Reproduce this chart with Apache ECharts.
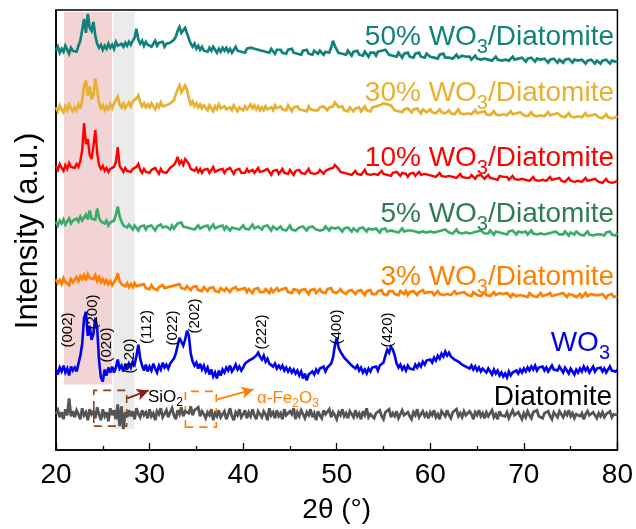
<!DOCTYPE html>
<html><head><meta charset="utf-8">
<script src="https://cdn.jsdelivr.net/npm/echarts@6/dist/echarts.min.js"></script>
<style>html,body{margin:0;padding:0;background:#fff}#c{width:636px;height:529px}</style>
</head><body><div id="c"></div>
<script>
// 2-theta scan: 20.0 .. 80.0 step 0.2 (301 points)
const scanStart = 20, scanStep = 0.2;
const xTicks = [20, 30, 40, 50, 60, 70, 80];

const diatomite = [
36,40,33,38,31,41,35,52,34,39, 33,40,36,31,42,35,38,30,41,36, 39,32,43,36,30,41,34,38,29,42,
35,40,31,46,24,44,21,38,33,40, 34,39,31,42,36,33,40,35,38,32, 41,34,37,30,39,36,42,33,35,40,
33,38,42,35,31,40,36,43,34,39, 41,37,44,35,40,38,43,34,39,36, 32,38,35,41,30,37,34,40,33,36,
39,31,36,42,34,30,38,35,41,33, 36,40,32,38,34,41,35,31,39,37, 33,39,36,30,42,35,38,32,40,34,
37,31,41,35,33,39,36,42,31,38, 34,40,36,32,38,35,41,33,37,30, 39,35,32,40,36,34,41,33,38,35,
31,38,35,41,34,37,32,39,36,33, 40,34,37,31,39,35,42,33,36,38, 32,37,35,40,34,31,38,36,41,33,
37,34,39,32,36,40,35,33,38,34, 31,38,35,41,33,36,39,34,37,32, 38,35,40,33,36,31,39,37,34,40,
35,32,38,36,41,34,37,33,39,35, 33,39,36,31,38,35,40,34,37,32, 38,34,37,40,33,36,31,39,35,37,
34,38,32,36,40,35,33,38,36,31, 37,33,39,35,32,38,36,40,34,36, 32,37,35,39,34,31,38,36,33,39,
36,33,38,35,40,34,37,32,36,38, 34,37,31,36,39,35,33,38,35,32, 37,34,38,33,36,35,39,33,36,34,
35];

const wo3 = [
36,31,38,34,40,33,37,30,39,35, 38,34,42,50,62,88,94,70,80,66, 72,88,78,45,28,24,36,30,38,33,
39,33,38,46,37,40,34,41,36,42, 38,44,41,50,61,47,40,35,41,34, 39,35,42,37,33,40,36,43,38,41,
37,42,40,47,52,60,68,64,60,66, 75,70,52,44,40,43,37,42,36,40, 34,38,31,36,29,33,27,35,30,36,
33,38,35,40,34,37,41,36,39,35, 38,42,40,45,43,47,45,50,53,49, 46,50,44,47,42,44,39,42,37,40,
37,40,35,38,34,37,33,36,32,35, 30,34,27,32,25,31,29,34,31,36, 33,37,35,39,34,38,36,42,48,60,
68,58,54,52,48,50,44,46,40,42, 37,40,35,38,33,36,32,37,34,38, 36,39,35,40,38,43,50,56,53,59,
56,50,42,38,41,36,39,35,40,37, 39,36,41,38,42,39,44,41,45,43, 46,43,48,45,50,47,52,49,54,50,
53,49,51,46,48,44,45,41,43,39, 41,37,40,36,39,35,38,34,37,35, 33,37,34,31,36,32,35,30,33,29,
32,28,34,30,33,31,35,32,36,33, 37,34,38,35,39,36,40,35,38,36, 39,35,38,34,37,40,36,38,35,39,
36,33,38,35,32,37,34,31,36,33, 37,34,39,35,38,33,36,39,34,37, 35,38,34,37,33,36,39,35,37,34,
36];

const wo3_3 = [
37,33,36,32,38,34,35,31,37,34, 36,39,35,40,37,41,36,42,38,40, 37,41,35,39,34,37,33,36,32,35,
31,34,37,43,35,32,34,30,33,29, 32,29,33,30,28,31,29,32,28,30, 27,31,28,30,26,29,27,31,28,26,
29,27,30,28,31,29,32,28,30,27, 30,28,26,29,27,30,26,28,25,29, 27,25,28,26,29,25,27,24,28,26,
25,28,26,24,27,25,29,26,24,27, 25,28,24,27,26,23,27,25,28,24, 26,24,27,25,23,27,24,26,28,25,
24,27,25,28,24,26,23,27,25,26, 23,26,24,27,25,22,26,24,27,23, 25,27,24,26,23,27,25,28,24,26,
23,25,27,24,26,22,25,23,26,24, 22,25,23,26,24,21,25,23,26,22, 24,22,25,23,26,22,24,21,25,23,
25,22,24,21,25,23,22,25,21,24, 22,25,23,21,24,22,26,23,21,24, 22,24,21,23,25,22,24,21,23,22,
24,21,23,25,22,20,23,21,24,22, 21,23,20,24,22,21,23,20,22,24, 21,23,20,22,24,21,19,23,21,22,
20,23,21,19,22,24,20,22,21,23, 20,22,19,23,21,20,22,19,21,23, 20,22,21,19,23,20,22,21,19,22,
20,23,21,19,22,20,21,23,19,21, 22,19,21,23,20,18,22,20,21,19, 21,19,22,20,18,21,20,22,19,21,
20];

const wo3_5 = [
35,31,36,33,37,32,35,38,33,36, 34,38,35,40,36,39,42,37,46,38, 40,37,48,39,35,37,33,36,31,34,
32,36,42,50,40,35,31,33,29,32, 30,27,31,29,26,30,28,31,27,30, 28,31,29,26,30,28,32,29,27,30,
29,27,31,28,30,33,31,34,30,32, 29,31,28,30,27,29,31,28,26,30, 28,31,27,29,32,28,26,30,28,31,
27,30,28,26,29,31,28,30,27,29, 31,28,30,27,29,32,28,26,30,28, 27,30,28,31,29,26,30,28,27,29,
30,27,29,26,28,31,27,29,26,28, 29,27,30,28,26,29,27,30,28,27, 29,26,28,27,30,28,26,29,27,28,
26,29,27,25,28,26,29,27,25,28, 27,25,28,26,29,27,25,28,26,27, 25,28,26,24,27,26,28,25,27,26,
28,25,27,24,26,28,25,27,26,24, 26,28,25,27,24,26,25,27,24,26, 25,27,24,26,25,23,26,24,27,25,
24,26,23,25,27,24,26,23,25,24, 26,23,25,24,22,25,23,26,24,23, 25,23,26,24,22,25,23,24,26,23,
24,22,25,23,26,24,22,25,23,24, 23,25,22,24,26,23,25,22,24,23, 25,22,24,23,21,24,22,25,23,22,
24,22,25,23,21,24,23,22,25,23, 22,24,21,23,25,22,24,21,23,22, 24,22,23,21,24,22,25,22,23,21,
23];

const wo3_10 = [
36,32,38,34,31,37,33,39,35,36, 34,38,35,41,52,79,58,63,47,43, 56,72,49,37,33,36,31,34,30,33,
31,35,40,55,36,33,30,34,31,33, 30,33,31,35,38,32,29,33,30,32, 29,32,30,34,31,28,33,30,32,29,
31,34,32,37,40,45,38,41,37,43, 45,38,33,35,31,34,30,33,29,32, 30,33,29,32,35,30,28,32,30,33,
29,32,30,34,31,28,32,30,33,29, 31,29,33,30,28,32,29,31,34,30, 28,31,29,33,30,27,31,29,32,28,
30,33,29,31,28,32,30,27,31,29, 32,29,31,28,30,33,29,31,28,30, 29,32,30,28,31,29,33,31,34,37,
36,33,30,32,29,31,28,30,27,29, 31,28,30,27,29,32,28,30,27,29, 28,30,27,29,31,28,30,27,29,26,
29,27,30,28,26,29,27,28,25,28, 27,29,26,28,30,27,25,28,26,27, 29,26,28,25,27,29,26,28,25,27,
26,28,25,27,24,26,28,25,27,24, 26,24,27,25,23,26,24,27,25,23, 25,27,24,26,23,25,22,26,24,25,
23,25,22,24,26,23,25,22,24,23, 25,22,24,21,23,25,22,24,21,23, 22,24,21,23,25,22,20,23,22,24,
21,23,20,22,24,21,23,20,22,21, 23,20,22,24,21,19,22,20,23,21, 20,22,19,21,23,20,22,19,21,20,
21];

const wo3_30 = [
40,36,42,38,35,41,37,43,39,36, 40,37,43,39,47,62,67,52,61,48, 53,69,58,44,39,42,37,41,38,43,
39,44,42,51,43,40,44,39,42,45, 41,46,44,49,52,45,41,44,40,43, 40,44,41,38,43,40,45,41,39,42,
40,44,42,47,53,58,62,55,57,62, 58,49,43,46,41,44,40,43,39,42, 40,37,42,39,36,41,38,43,39,37,
41,38,36,40,37,42,39,36,40,38, 37,41,38,40,43,39,42,38,41,37, 40,37,41,38,36,40,37,42,39,38,
41,38,40,37,42,39,36,40,38,41, 38,40,37,39,36,41,38,40,37,39, 37,40,38,41,39,37,40,42,41,45,
43,40,38,41,37,39,36,40,38,36, 39,37,40,36,38,41,37,39,36,40, 38,41,39,42,40,44,46,43,45,42,
40,37,39,36,38,35,38,36,39,37, 35,38,36,39,37,34,38,36,35,37, 38,35,37,34,36,38,35,37,34,36,
37,34,36,33,35,38,34,36,33,35, 34,36,33,35,37,34,32,35,34,36, 33,35,32,34,36,33,35,32,34,33,
35,32,34,36,33,31,34,32,35,33, 32,34,31,33,35,32,34,31,33,32, 34,31,33,35,32,30,33,31,34,32,
31,33,30,32,34,31,33,30,32,31, 33,30,32,34,31,29,32,30,33,31, 30,32,29,31,33,30,32,29,31,30,
31];

const wo3_50 = [
37,41,35,39,36,42,38,34,40,37, 39,36,42,47,58,69,55,74,60,57, 66,52,44,40,43,38,42,39,44,40,
43,39,46,42,40,44,41,45,42,46, 43,47,50,59,48,44,47,42,46,43, 45,41,44,47,42,45,43,46,41,44,
42,45,43,48,51,57,61,55,53,60, 58,49,44,41,44,39,42,38,41,37, 39,36,40,37,41,38,35,39,36,40,
37,40,36,39,35,38,41,37,39,36, 38,35,39,37,40,42,39,41,38,40, 37,39,36,38,35,39,37,34,38,36,
38,35,37,34,38,36,39,35,37,34, 36,33,37,35,38,34,36,33,37,35, 34,37,35,33,36,38,35,40,47,42,
38,35,37,34,36,33,37,35,32,36, 34,37,33,35,32,36,34,31,35,33, 35,32,36,34,37,35,38,36,33,35,
32,34,31,35,33,30,34,32,35,31, 33,30,34,32,35,31,33,30,34,32, 31,33,30,32,29,33,31,34,30,32,
30,32,29,31,33,30,28,32,30,31, 29,31,28,30,32,29,31,28,30,29, 31,28,30,27,29,31,28,30,27,29,
28,30,27,29,31,28,26,29,27,30, 28,26,29,27,30,28,26,29,27,28, 26,29,27,25,28,26,29,27,25,28,
27,25,28,26,29,27,25,28,26,27, 25,28,26,24,27,25,28,26,24,27, 26,24,27,25,28,26,24,27,25,26,
26];

const seriesNames = ['Diatomite','WO3','3% WO3/Diatomite','5% WO3/Diatomite','10% WO3/Diatomite','30% WO3/Diatomite','50% WO3/Diatomite'];
const seriesValues = [diatomite, wo3, wo3_3, wo3_5, wo3_10, wo3_30, wo3_50];
const stackOffsets = [0, 45, 135, 195, 250, 305, 365];
const lineColors = ['#555555','#0000f0','#ff8000','#3aac6c','#ff0000','#e8b030','#10827c'];
const lineWidths = [2.8, 2.6, 2.7, 2.7, 2.4, 2.7, 2.7];

const FONT = "'Liberation Sans', Arial, Helvetica, sans-serif";
const chart = echarts.init(document.getElementById('c'), null, {renderer:'canvas'});

const series = seriesValues.map((vals, k) => ({
  name: seriesNames[k], type:'line', showSymbol:false, symbol:'none', z: 2,
  animation:false, silent:true,
  lineStyle:{color: lineColors[k], width: lineWidths[k], join:'miter', miterLimit:3},
  data: vals.map((v, i) => [+(scanStart + scanStep*i).toFixed(1), v + stackOffsets[k]])
}));

// overlay shading + annotations
series.push({
  type:'line', data:[], z: 3, animation:false, silent:true,
  markArea:{
    silent:true,
    data:[
      [{xAxis:20.85, yAxis:66, itemStyle:{color:'rgba(200,50,50,0.21)'}}, {xAxis:26.0, yAxis:441}],
      [{xAxis:26.1, yAxis:21, itemStyle:{color:'rgba(128,128,128,0.16)'}}, {xAxis:28.4, yAxis:441}],
      [{xAxis:24.04, yAxis:24, itemStyle:{color:'transparent', borderColor:'#8a4616', borderWidth:1.6, borderType:[8,6]}}, {xAxis:27.55, yAxis:60}],
      [{xAxis:33.83, yAxis:23, itemStyle:{color:'transparent', borderColor:'#ff8000', borderWidth:1.6, borderType:[8,6]}}, {xAxis:37.13, yAxis:59}]
    ]
  },
  markLine:{
    silent:true, symbol:['none','arrow'], symbolSize:[9,12], label:{show:false},
    data:[
      [{coord:[27.6,52], lineStyle:{color:'#8b1a1a', width:1.8, type:'solid'}}, {coord:[29.9,60]}],
      [{coord:[37.25,51], lineStyle:{color:'#ff8000', width:1.8, type:'solid'}}, {coord:[41.1,61]}]
    ]
  }
});

function subLabel(x, y, main1, sub, main2, color, size, subSize, subPad) {
  return {
    type:'text', x:x, y:y, z:10, silent:true,
    style:{
      text:'{a|' + main1 + '}{s|' + sub + '}{a|' + main2 + '}',
      align:'right', verticalAlign:'middle', fill:color,
      rich:{
        a:{fontSize:size, fontFamily:FONT, fill:color},
        s:{fontSize:subSize, fontFamily:FONT, fill:color, padding:[subPad,0,0,0]}
      }
    }
  };
}
function peakLabel(x, y, t) {
  return {type:'text', x:x, y:y, rotation:Math.PI/2, z:10, silent:true,
    style:{text:t, align:'center', verticalAlign:'middle', fill:'#000', font:'15px ' + FONT}};
}

const graphic = [
  subLabel(614, 37, '50% WO', '3', '/Diatomite', '#10827c', 28, 20, 21),
  subLabel(614, 93, '30% WO', '3', '/Diatomite', '#e8b030', 28, 20, 21),
  subLabel(614, 158, '10% WO', '3', '/Diatomite', '#ff0000', 28, 20, 21),
  subLabel(614, 214, '5% WO', '3', '/Diatomite', '#2e7d50', 28, 20, 21),
  subLabel(614, 277, '3% WO', '3', '/Diatomite', '#ff8000', 28, 20, 21),
  subLabel(610, 343, 'WO', '3', '', '#0000ee', 28, 20, 21),
  {type:'text', x:612, y:397, z:10, silent:true,
    style:{text:'Diatomite', align:'right', verticalAlign:'middle', fill:'#000', font:'28px ' + FONT}},
  {type:'text', x:148, y:397, z:10, silent:true,
    style:{text:'{a|SiO}{s|2}', align:'left', verticalAlign:'middle', fill:'#000',
      rich:{a:{fontSize:17, fontFamily:FONT, fill:'#000'}, s:{fontSize:12, fontFamily:FONT, fill:'#000', padding:[11,0,0,0]}}}},
  {type:'text', x:257, y:398, z:10, silent:true,
    style:{text:'{a|α-Fe}{s|2}{a|O}{s|3}', align:'left', verticalAlign:'middle', fill:'#ff8000',
      rich:{a:{fontSize:17, fontFamily:FONT, fill:'#ff8000'}, s:{fontSize:12, fontFamily:FONT, fill:'#ff8000', padding:[11,0,0,0]}}}},
  {type:'text', x:28, y:231, rotation:Math.PI/2, z:10, silent:true,
    style:{text:'Intensity (a.u.)', align:'center', verticalAlign:'middle', fill:'#000', font:'31px ' + FONT}},
  peakLabel(68, 330, '(002)'),
  peakLabel(93, 312, '(200)'),
  peakLabel(107, 345, '(020)'),
  peakLabel(130, 356, '(120)'),
  peakLabel(147, 327, '(112)'),
  peakLabel(173, 328, '(022)'),
  peakLabel(195, 316, '(202)'),
  peakLabel(262, 332, '(222)'),
  peakLabel(337, 327, '(400)'),
  peakLabel(388, 330, '(420)')
];

chart.setOption({
  animation:false,
  backgroundColor:'#fff',
  grid:{left:56, right:17, top:10, bottom:76, show:true, borderColor:'#000', borderWidth:1.5, backgroundColor:'transparent'},
  xAxis:{
    type:'value', min:xTicks[0], max:xTicks[xTicks.length-1], interval:10,
    name:'2θ (°)', nameLocation:'middle', nameGap:46,
    nameTextStyle:{fontSize:28, fontFamily:FONT, color:'#000'},
    axisLine:{show:true, onZero:false, lineStyle:{color:'#000', width:1.5}},
    axisTick:{show:true, inside:true, length:7, lineStyle:{color:'#000', width:1.3}},
    minorTick:{show:true, splitNumber:2, length:4, lineStyle:{color:'#000', width:1.3}},
    axisLabel:{fontSize:28, fontFamily:FONT, color:'#000', margin:11},
    splitLine:{show:false}, minorSplitLine:{show:false}
  },
  yAxis:{
    type:'value', min:0, max:443,
    axisLine:{show:true, lineStyle:{color:'#000', width:1.5}},
    axisTick:{show:false}, axisLabel:{show:false}, splitLine:{show:false}
  },
  series: series,
  graphic: graphic
});
</script>
</body></html>
